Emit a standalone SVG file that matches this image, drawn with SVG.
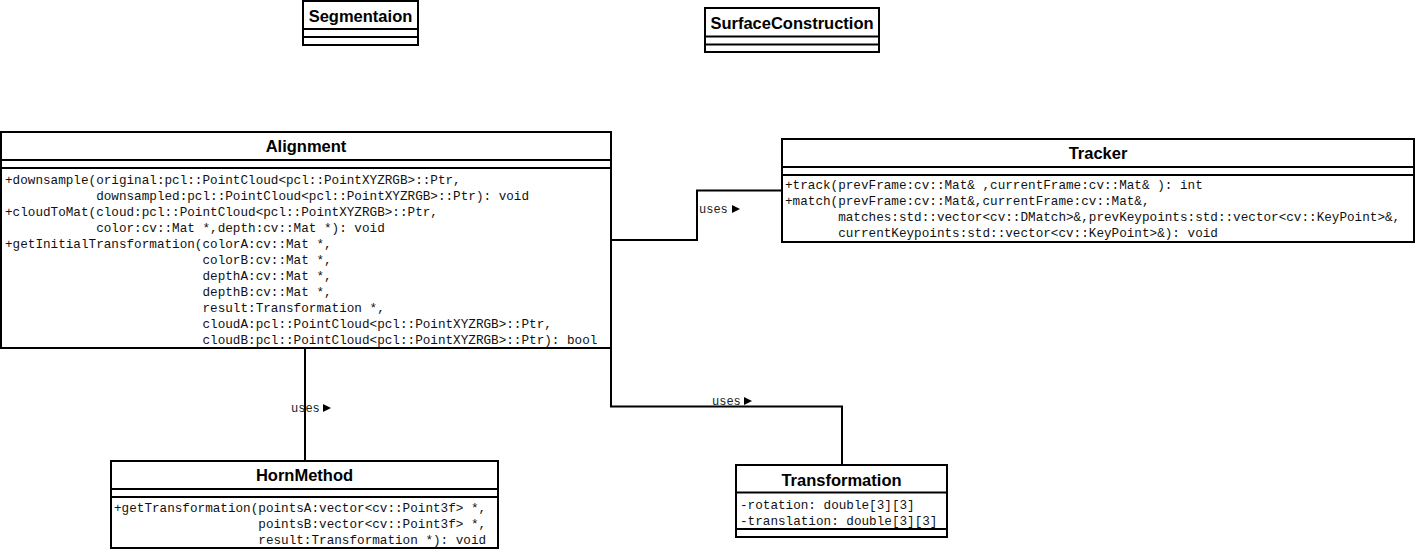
<svg xmlns="http://www.w3.org/2000/svg" width="1418" height="552" viewBox="0 0 1418 552">
<style>
.box{fill:#fff;stroke:#000;stroke-width:2}
.sep{stroke:#000;stroke-width:2}
.title{font-family:"Liberation Sans",Arial,sans-serif;font-weight:bold;font-size:16.5px;fill:#000;text-anchor:middle}
.m{font-family:"Liberation Mono","Courier New",monospace;font-size:12.66px;fill:#111;white-space:pre}
.lbl{font-family:"Liberation Mono","Courier New",monospace;font-size:12px;fill:#222}
.conn{fill:none;stroke:#000;stroke-width:2}
.arr{fill:#000}
</style>
<rect width="1418" height="552" fill="#fff"/>
<g id="connectors">
<polyline class="conn" points="611,240 697,240 697,190.5 782,190.5"/>
<text class="lbl" x="699" y="213">uses</text>
<polygon class="arr" points="732,205 740,209 732,213"/>
<line class="conn" x1="305" y1="348" x2="305" y2="461"/>
<text class="lbl" x="291" y="412">uses</text>
<polygon class="arr" points="323,404 331,408 323,412"/>
<polyline class="conn" points="611,348 611,406.5 842,406.5 842,465"/>
<text class="lbl" x="712" y="405">uses</text>
<polygon class="arr" points="744,397 752,401 744,405"/>
</g>
<g id="Segmentaion">
<rect class="box" x="303" y="1" width="115" height="44"/>
<line class="sep" x1="303" y1="29" x2="418" y2="29"/>
<line class="sep" x1="303" y1="37" x2="418" y2="37"/>
<text class="title" x="360.5" y="21.5">Segmentaion</text>
</g>
<g id="SurfaceConstruction">
<rect class="box" x="705" y="8" width="174" height="44"/>
<line class="sep" x1="705" y1="36.5" x2="879" y2="36.5"/>
<line class="sep" x1="705" y1="44.5" x2="879" y2="44.5"/>
<text class="title" x="792" y="28.5">SurfaceConstruction</text>
</g>
<g id="Alignment">
<rect class="box" x="1" y="132" width="610" height="216"/>
<line class="sep" x1="1" y1="160" x2="611" y2="160"/>
<line class="sep" x1="1" y1="168" x2="611" y2="168"/>
<text class="title" x="306" y="152">Alignment</text>
<text class="m" xml:space="preserve" x="5" y="184">+downsample(original:pcl::PointCloud&lt;pcl::PointXYZRGB&gt;::Ptr,</text>
<text class="m" xml:space="preserve" x="5" y="200">            downsampled:pcl::PointCloud&lt;pcl::PointXYZRGB&gt;::Ptr): void</text>
<text class="m" xml:space="preserve" x="5" y="216">+cloudToMat(cloud:pcl::PointCloud&lt;pcl::PointXYZRGB&gt;::Ptr,</text>
<text class="m" xml:space="preserve" x="5" y="232">            color:cv::Mat *,depth:cv::Mat *): void</text>
<text class="m" xml:space="preserve" x="5" y="248">+getInitialTransformation(colorA:cv::Mat *,</text>
<text class="m" xml:space="preserve" x="5" y="264">                          colorB:cv::Mat *,</text>
<text class="m" xml:space="preserve" x="5" y="280">                          depthA:cv::Mat *,</text>
<text class="m" xml:space="preserve" x="5" y="296">                          depthB:cv::Mat *,</text>
<text class="m" xml:space="preserve" x="5" y="312">                          result:Transformation *,</text>
<text class="m" xml:space="preserve" x="5" y="328">                          cloudA:pcl::PointCloud&lt;pcl::PointXYZRGB&gt;::Ptr,</text>
<text class="m" xml:space="preserve" x="5" y="344">                          cloudB:pcl::PointCloud&lt;pcl::PointXYZRGB&gt;::Ptr): bool</text>
</g>
<g id="Tracker">
<rect class="box" x="782" y="139" width="632" height="103"/>
<line class="sep" x1="782" y1="167" x2="1414" y2="167"/>
<line class="sep" x1="782" y1="175" x2="1414" y2="175"/>
<text class="title" x="1098" y="159">Tracker</text>
<text class="m" xml:space="preserve" x="785" y="189">+track(prevFrame:cv::Mat&amp; ,currentFrame:cv::Mat&amp; ): int</text>
<text class="m" xml:space="preserve" x="785" y="205">+match(prevFrame:cv::Mat&amp;,currentFrame:cv::Mat&amp;,</text>
<text class="m" xml:space="preserve" x="785" y="221">       matches:std::vector&lt;cv::DMatch&gt;&amp;,prevKeypoints:std::vector&lt;cv::KeyPoint&gt;&amp;,</text>
<text class="m" xml:space="preserve" x="785" y="237">       currentKeypoints:std::vector&lt;cv::KeyPoint&gt;&amp;): void</text>
</g>
<g id="HornMethod">
<rect class="box" x="111" y="461" width="387" height="87"/>
<line class="sep" x1="111" y1="489" x2="498" y2="489"/>
<line class="sep" x1="111" y1="497" x2="498" y2="497"/>
<text class="title" x="304.5" y="481">HornMethod</text>
<text class="m" xml:space="preserve" x="114" y="512">+getTransformation(pointsA:vector&lt;cv::Point3f&gt; *,</text>
<text class="m" xml:space="preserve" x="114" y="528">                   pointsB:vector&lt;cv::Point3f&gt; *,</text>
<text class="m" xml:space="preserve" x="114" y="544">                   result:Transformation *): void</text>
</g>
<g id="Transformation">
<rect class="box" x="736" y="465" width="211" height="72"/>
<line class="sep" x1="736" y1="492.5" x2="947" y2="492.5"/>
<line class="sep" x1="736" y1="529" x2="947" y2="529"/>
<text class="title" x="841.5" y="486">Transformation</text>
<text class="m" xml:space="preserve" x="740" y="509">-rotation: double[3][3]</text>
<text class="m" xml:space="preserve" x="740" y="525">-translation: double[3][3]</text>
</g>
</svg>
